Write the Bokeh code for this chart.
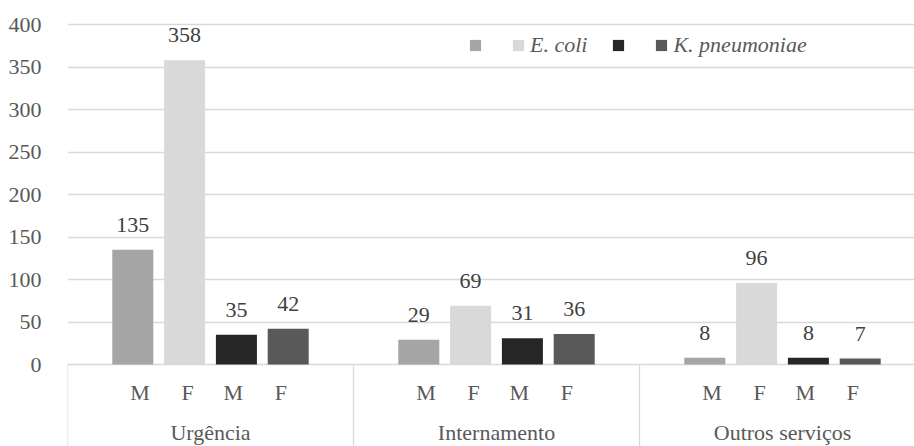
from bokeh.plotting import figure
from bokeh.models import ColumnDataSource, Range1d, FixedTicker, Legend, LegendItem
from bokeh.core.properties import value
from bokeh.embed import file_html
from bokeh.resources import INLINE

# ---- data ----
groups = ["Urgência", "Internamento", "Outros serviços"]
sex_labels = ["M", "F", "M", "F"]
ecoli_M = [135, 29, 8]
ecoli_F = [358, 69, 96]
kpn_M = [35, 31, 8]
kpn_F = [42, 36, 7]
legend_labels = ["", "E. coli", "", "K. pneumoniae"]
y_ticks = [0, 50, 100, 150, 200, 250, 300, 350, 400]

series = [ecoli_M, ecoli_F, kpn_M, kpn_F]
colors = ["#a5a5a5", "#d9d9d9", "#262626", "#595959"]

# ---- layout (pixels) ----
W, H = 914, 446
left_px = 67
group_px = 286
zero_px = 364
top400_px = 24
ppu = (zero_px - top400_px) / 400.0
y_top = 400 + top400_px / ppu
y_bot = -(H - zero_px) / ppu
x_end = (W - left_px) / group_px

bar_off = [-0.2717, -0.0906, 0.0906, 0.2717]
lab_off = [-0.246, -0.08, 0.08, 0.246]
bar_w = 0.1434

FONT = "Liberation Serif"
TXT = "#595959"
FS = "22px"

p = figure(width=W, height=H, output_backend="svg", toolbar_location=None,
           x_range=Range1d(0, x_end), y_range=Range1d(y_bot, y_top),
           min_border_left=left_px, min_border_right=0, min_border_top=0,
           min_border_bottom=0, outline_line_color=None)
p.xaxis.visible = False
p.xgrid.visible = False
p.yaxis.ticker = FixedTicker(ticks=y_ticks)
p.ygrid.ticker = FixedTicker(ticks=y_ticks)
p.ygrid.grid_line_color = "#d9d9d9"
p.ygrid.grid_line_width = 1.3
p.yaxis.axis_line_color = None
p.yaxis.major_tick_line_color = None
p.yaxis.minor_tick_line_color = None
p.yaxis.major_label_standoff = 20
p.yaxis.major_label_text_font = FONT
p.yaxis.major_label_text_font_size = FS
p.yaxis.major_label_text_color = TXT

renderers = []
for k, (vals, col) in enumerate(zip(series, colors)):
    xs = [g + 0.5 + bar_off[k] for g in range(len(groups))]
    src = ColumnDataSource(dict(x=xs, top=vals, lab=[str(v) for v in vals]))
    r = p.vbar(x="x", top="top", width=bar_w, bottom=0, source=src,
               fill_color=col, line_color=None)
    renderers.append(r)
    p.text(x="x", y="top", text="lab", source=src, text_align="center",
           text_baseline="alphabetic", y_offset=-25, text_color="#404040",
           text_font=value(FONT), text_font_size=FS)

# category dividers
div_x = [float(g) for g in range(len(groups) + 1)]
p.segment(x0=div_x, x1=div_x, y0=[0] * len(div_x), y1=[y_bot] * len(div_x),
          line_color="#d9d9d9", line_width=1.3)

# sub-category labels
sx, sy, st = [], [], []
for g in range(len(groups)):
    for k, s in enumerate(sex_labels):
        sx.append(g + 0.5 + lab_off[k])
        sy.append(-(392 - zero_px) / ppu)
        st.append(s)
p.text(x=sx, y=sy, text=st, text_align="center", text_baseline="middle",
       text_color=TXT, text_font=value(FONT), text_font_size=FS)

# group labels
p.text(x=[g + 0.5 for g in range(len(groups))], y=[-(432 - zero_px) / ppu] * len(groups),
       text=groups, text_align="center", text_baseline="middle",
       text_color=TXT, text_font=value(FONT), text_font_size=FS)

items = [LegendItem(label=lab, renderers=[r]) for lab, r in zip(legend_labels, renderers)]
legend = Legend(items=items, orientation="horizontal", location=(470 - left_px - 2, H - 58),
                glyph_width=14, glyph_height=14, label_standoff=5, spacing=24,
                label_width=0, padding=0, margin=0, border_line_color=None,
                background_fill_alpha=0, label_text_font=FONT,
                label_text_font_size=FS, label_text_font_style="italic",
                label_text_color=TXT)
p.add_layout(legend)

open("out.html", "w").write(file_html(p, INLINE))
